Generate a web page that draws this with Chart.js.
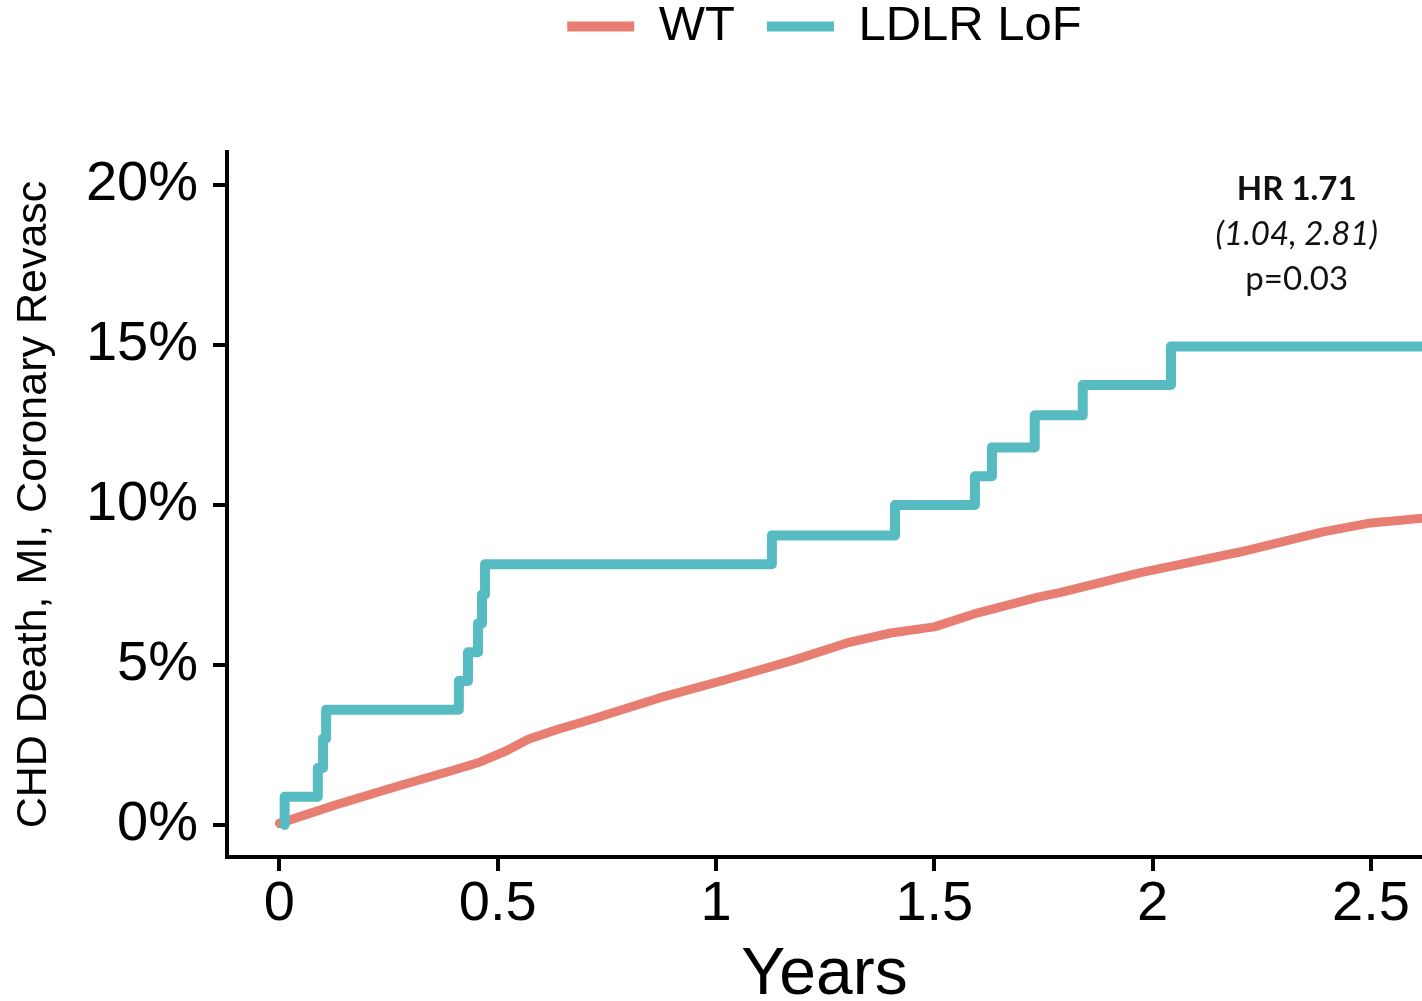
<!DOCTYPE html>
<html>
<head>
<meta charset="utf-8">
<script src="https://cdn.jsdelivr.net/npm/chart.js@4.4.1/dist/chart.umd.min.js"></script>
<style>
  html, body { margin: 0; padding: 0; background: #fff; }
</style>
</head>
<body>
<canvas id="chart" width="1422" height="1001"></canvas>
<script>
// cumulative incidence (%)
const wtYears = [0, 0.13, 0.28, 0.40, 0.46, 0.52, 0.57, 0.64, 0.71, 0.87, 1.02, 1.18, 1.30, 1.40, 1.50, 1.60, 1.74, 1.79, 1.97, 2.20, 2.39, 2.50, 2.62];
const wtRisk  = [0.05, 0.63, 1.25, 1.72, 1.97, 2.32, 2.68, 3.00, 3.28, 3.97, 4.53, 5.16, 5.69, 6.00, 6.19, 6.63, 7.13, 7.27, 7.88, 8.53, 9.16, 9.44, 9.59];

const lofYears = [0.012, 0.012, 0.088, 0.100, 0.107, 0.411, 0.432, 0.455, 0.464, 0.471, 1.128, 1.410, 1.593, 1.632, 1.730, 1.840, 2.042, 2.620];
const lofRisk  = [0, 0.88, 1.78, 2.7, 3.6, 4.5, 5.4, 6.3, 7.2, 8.15, 9.05, 10.0, 10.9, 11.8, 12.8, 13.75, 14.95, 14.95];

const xTicks = [0, 0.5, 1, 1.5, 2, 2.5];
const yTicks = [0, 5, 10, 15, 20];
const statLines = ['HR 1.71', '(1.04, 2.81)', 'p=0.03'];

const RED = '#E87D72';
const TEAL = '#56BCC2';
const FONT = "'Liberation Sans', Arial, Helvetica, sans-serif";

const toPoints = (xs, ys) => xs.map((x, i) => ({ x: x, y: ys[i] }));

// HR box in the top right corner
const statsText = {
  id: 'statsText',
  afterDraw(chart) {
    const { ctx, scales } = chart;
    const x = scales.x.getPixelForValue(2.33);
    const fonts = ["bold 33px Lato, 'Open Sans', sans-serif", "italic 33px Lato, 'Open Sans', sans-serif", "33px Lato, 'Open Sans', sans-serif"];
    const ys = [scales.y.getPixelForValue(19.87), scales.y.getPixelForValue(18.47), scales.y.getPixelForValue(17.05)];
    ctx.save();
    ctx.fillStyle = '#111';
    ctx.textAlign = 'center';
    ctx.textBaseline = 'middle';
    statLines.forEach((t, i) => {
      ctx.font = fonts[i];
      ctx.fillText(t, x, ys[i]);
    });
    ctx.restore();
  }
};

const axisLine = { display: true, width: 4, color: '#000' };
const tickGrid = { drawOnChartArea: false, drawTicks: true, tickLength: 14, tickWidth: 4, lineWidth: 4, tickColor: '#000', color: '#000' };

new Chart(document.getElementById('chart'), {
  type: 'line',
  data: {
    datasets: [
      {
        label: 'WT',
        data: toPoints(wtYears, wtRisk),
        borderColor: RED,
        backgroundColor: RED,
        borderWidth: 9,
        borderCapStyle: 'round',
        borderJoinStyle: 'round',
        pointRadius: 0,
        tension: 0,
        order: 1
      },
      {
        label: 'LDLR LoF',
        data: toPoints(lofYears, lofRisk),
        borderColor: TEAL,
        backgroundColor: TEAL,
        borderWidth: 10,
        borderCapStyle: 'round',
        borderJoinStyle: 'round',
        stepped: 'before',
        pointRadius: 0,
        order: 0
      }
    ]
  },
  options: {
    responsive: false,
    animation: false,
    layout: { padding: { top: -30, left: 0, right: 0, bottom: 0 } },
    plugins: {
      tooltip: { enabled: false },
      legend: {
        position: 'top',
        fullSize: false,
        labels: {
          color: '#000',
          font: { family: FONT, size: 49 },
          boxWidth: 67,
          boxHeight: 10,
          padding: 32,
          sort: (a, b) => a.datasetIndex - b.datasetIndex,
          generateLabels: (chart) =>
            Chart.defaults.plugins.legend.labels.generateLabels(chart).map(l => ({ ...l, fillStyle: l.strokeStyle, lineWidth: 0 }))
        }
      },
      // empty title used as a spacer between the legend and the plot
      title: {
        display: true,
        text: '',
        weight: 100,
        font: { size: 10, lineHeight: 1 },
        padding: { top: 0, bottom: 81 }
      }
    },
    scales: {
      x: {
        type: 'linear',
        min: -0.12,
        max: 2.617,
        afterBuildTicks: (axis) => { axis.ticks = xTicks.map(v => ({ value: v })); },
        afterFit: (scale) => { scale.height = 144; },
        border: axisLine,
        grid: tickGrid,
        ticks: {
          color: '#000',
          padding: 6,
          maxRotation: 0,
          font: { family: FONT, size: 56, lineHeight: 1 },
          callback: (v) => String(v)
        },
        title: {
          display: true,
          text: 'Years',
          color: '#000',
          font: { family: FONT, size: 66, lineHeight: 0.75 },
          padding: { top: 0, bottom: 0 }
        }
      },
      y: {
        type: 'linear',
        min: -1,
        max: 21.03,
        afterBuildTicks: (axis) => { axis.ticks = yTicks.map(v => ({ value: v })); },
        afterFit: (scale) => { scale.width = 227; },
        border: axisLine,
        grid: tickGrid,
        ticks: {
          color: '#000',
          padding: 15,
          font: { family: FONT, size: 56, lineHeight: 1 },
          callback: (v) => v + '%'
        },
        title: {
          display: true,
          text: 'CHD Death, MI, Coronary Revasc',
          color: '#000',
          font: { family: FONT, size: 43, lineHeight: 1 },
          padding: { top: 13, bottom: 0 }
        }
      }
    }
  },
  plugins: [statsText]
});
</script>
</body>
</html>
